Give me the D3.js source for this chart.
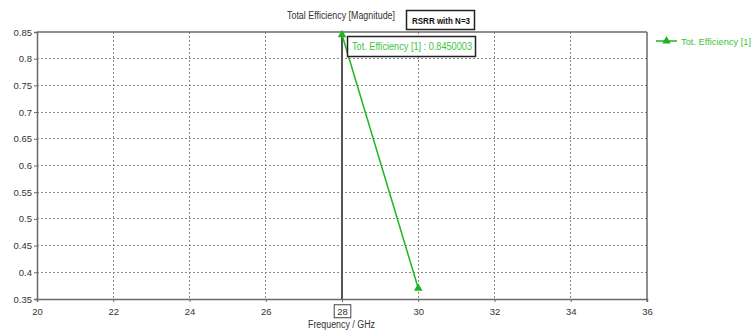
<!DOCTYPE html>
<html>
<head>
<meta charset="utf-8">
<script src="https://cdn.jsdelivr.net/npm/d3@7"></script>
<style>
  html, body { margin: 0; padding: 0; background: #fff; }
  svg { display: block; font-family: "Liberation Sans", Arial, sans-serif; }
</style>
</head>
<body>
<svg id="chart" width="755" height="334"></svg>
<script>
// Total efficiency vs. frequency
const frequencies = [28, 30];
const efficiencies = [0.8450003, 0.37];
const xTicks = [20, 22, 24, 26, 28, 30, 32, 34, 36];
const yTicks = [0.35, 0.4, 0.45, 0.5, 0.55, 0.6, 0.65, 0.7, 0.75, 0.8, 0.85];
const markerFreq = 28;
const seriesName = "Tot. Efficiency [1]";
const chartTitle = "Total Efficiency [Magnitude]";
const boxTitle = "RSRR with N=3";
const xLabel = "Frequency / GHz";

const svg = d3.select("#chart");
const m = { left: 37, right: 647, top: 32, bottom: 299 };
const x = d3.scaleLinear().domain([20, 36]).range([m.left, m.right]);
const y = d3.scaleLinear().domain([0.35, 0.85]).range([m.bottom, m.top]);

const axisCol = "#6a6a6a";
const textCol = "#333";
const green = "#1fb51f";
const greenText = "#3cc43c";

// narrow text helper: fixes the drawn width of a label
function fit(sel, w) {
  return sel.attr("textLength", w).attr("lengthAdjust", "spacingAndGlyphs");
}

// grid
const grid = svg.append("g");
grid.selectAll("line.v").data(xTicks.slice(1, -1)).join("line")
  .attr("x1", d => x(d)).attr("x2", d => x(d))
  .attr("y1", m.top).attr("y2", m.bottom)
  .attr("stroke", "#888").attr("stroke-width", 1).attr("stroke-dasharray", "2,2")
  .attr("shape-rendering", "crispEdges");
grid.selectAll("line.h").data(yTicks.slice(1, -1)).join("line")
  .attr("x1", m.left).attr("x2", m.right)
  .attr("y1", d => y(d)).attr("y2", d => y(d))
  .attr("stroke", "#888").attr("stroke-width", 1).attr("stroke-dasharray", "2,2")
  .attr("shape-rendering", "crispEdges");

// axes
const fmt = d => String(+d.toFixed(2));
const xAxis = svg.append("g").attr("transform", `translate(0,${m.bottom})`)
  .call(d3.axisBottom(x).tickValues(xTicks).tickSize(3).tickPadding(6).tickFormat(d3.format("d")));
const yAxis = svg.append("g").attr("transform", `translate(${m.left},0)`)
  .call(d3.axisLeft(y).tickValues(yTicks).tickSize(3).tickPadding(2).tickFormat(fmt));
[xAxis, yAxis].forEach(a => {
  a.select(".domain").attr("stroke", axisCol).attr("stroke-width", 1.5);
  a.selectAll(".tick line").attr("stroke", axisCol);
  a.selectAll("text").attr("fill", textCol).attr("font-size", 9.5)
    .attr("font-family", "'Liberation Sans', Arial, sans-serif");
});
// top and right frame
svg.append("line").attr("x1", m.left).attr("x2", m.right).attr("y1", m.top).attr("y2", m.top)
  .attr("stroke", axisCol).attr("stroke-width", 1.5);
svg.append("line").attr("x1", m.right).attr("x2", m.right).attr("y1", m.top).attr("y2", m.bottom)
  .attr("stroke", axisCol).attr("stroke-width", 1.5);
svg.append("line").attr("x1", m.right).attr("x2", m.right).attr("y1", m.bottom).attr("y2", m.bottom + 3)
  .attr("stroke", axisCol);

// box around the marker tick label
xAxis.selectAll(".tick").filter(d => d === markerFreq).each(function () {
  const t = d3.select(this).select("text");
  const bb = t.node().getBBox();
  d3.select(this).insert("rect", "text")
    .attr("x", bb.x - 3).attr("y", bb.y - 1).attr("width", bb.width + 6).attr("height", bb.height + 2)
    .attr("fill", "#fff").attr("stroke", "#444").attr("stroke-width", 1);
});

// marker line
svg.append("line").attr("x1", x(markerFreq)).attr("x2", x(markerFreq))
  .attr("y1", m.top).attr("y2", m.bottom)
  .attr("stroke", "#555").attr("stroke-width", 2);

// series
const pts = frequencies.map((f, i) => [f, efficiencies[i]]);
svg.append("path").datum(pts)
  .attr("d", d3.line().x(d => x(d[0])).y(d => y(d[1])))
  .attr("fill", "none").attr("stroke", green).attr("stroke-width", 1.5);
const tri = d3.symbol().type(d3.symbolTriangle).size(32);
svg.selectAll("path.mk").data(pts).join("path")
  .attr("transform", d => `translate(${x(d[0])},${y(d[1])})`)
  .attr("d", tri).attr("fill", green);

// value annotation
const ann = svg.append("g");
ann.append("rect")
  .attr("x", x(markerFreq) + 5.5).attr("y", 36.5)
  .attr("width", 128).attr("height", 20)
  .attr("fill", "#fff").attr("stroke", "#222").attr("stroke-width", 1.5);
fit(ann.append("text")
  .attr("x", x(markerFreq) + 10).attr("y", 50)
  .attr("fill", greenText).attr("font-size", 10)
  .text(`${seriesName} : ${efficiencies[0].toFixed(7)}`), 120);

// titles
fit(svg.append("text").attr("x", 287).attr("y", 19)
  .attr("fill", textCol).attr("font-size", 10).text(chartTitle), 108);
const tb = svg.append("g");
tb.append("rect").attr("x", 406.5).attr("y", 10.5).attr("width", 68).attr("height", 19)
  .attr("fill", "#fff").attr("stroke", "#222").attr("stroke-width", 1.5);
fit(tb.append("text").attr("x", 412).attr("y", 23.5)
  .attr("fill", "#111").attr("font-size", 9.5).attr("font-weight", "bold").text(boxTitle), 58);

fit(svg.append("text").attr("x", 308).attr("y", 328)
  .attr("fill", textCol).attr("font-size", 10).text(xLabel), 67);

// legend
const lg = svg.append("g").attr("transform", "translate(656,41)");
lg.append("line").attr("x1", 0).attr("x2", 21).attr("stroke", green).attr("stroke-width", 1.5);
lg.append("path").attr("transform", "translate(10.5,0)").attr("d", tri).attr("fill", green);
fit(lg.append("text").attr("x", 25).attr("y", 4).attr("fill", greenText).attr("font-size", 9.3).text(seriesName), 70);
</script>
</body>
</html>
